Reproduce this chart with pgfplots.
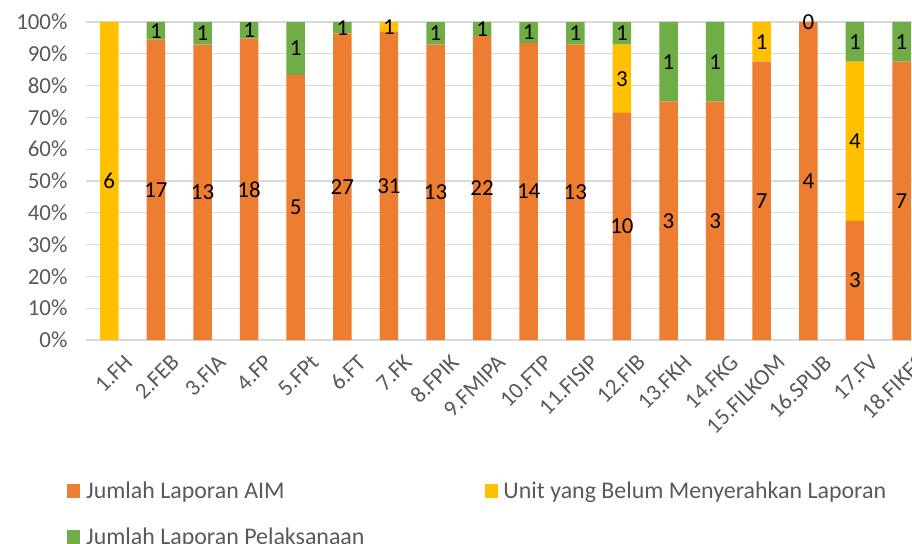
\documentclass[border=0pt]{standalone}
\usepackage{pgfplots}
\usepackage{pgfplotstable}
\usepackage{fontspec}
\setmainfont{Carlito}
\pgfplotsset{compat=1.18}

\definecolor{cAIM}{HTML}{ED7D31}
\definecolor{cBelum}{HTML}{FFC000}
\definecolor{cPel}{HTML}{70AD47}
\definecolor{txtgray}{HTML}{595959}
\definecolor{gridgray}{HTML}{D9D9D9}

% counts per unit; la/lb/lp are the data labels shown on the bars
\pgfplotstableread{
i aim bel pel la lb lp
0 0 6 0 {} 6 {}
1 17 0 1 17 {} 1
2 13 0 1 13 {} 1
3 18 0 1 18 {} 1
4 5 0 1 5 {} 1
5 27 0 1 27 {} 1
6 31 1 0 31 1 {}
7 13 0 1 13 {} 1
8 22 0 1 22 {} 1
9 14 0 1 14 {} 1
10 13 0 1 13 {} 1
11 10 3 1 10 3 1
12 3 0 1 3 {} 1
13 3 0 1 3 {} 1
14 7 1 0 7 1 {}
15 4 0 0 4 {} {}
16 3 4 1 3 4 1
17 7 0 1 7 {} 1
}\datatable

\newcommand{\pct}[1]{\thisrow{#1}/(\thisrow{aim}+\thisrow{bel}+\thisrow{pel})*100}
% tick label that ends at its tick
\newcommand{\tl}[1]{\llap{#1}}

\begin{document}
\begin{tikzpicture}
\begin{axis}[
    name=ax,
    at={(0,0)}, anchor=south west,
    scale only axis,
    width=826bp, height=318bp,
    ybar stacked,
    bar width=18.5bp,
    xmin=-0.5, xmax=17.225,
    ymin=0, ymax=100,
    xtick=data,
    xticklabels={\tl{1.FH},\tl{2.FEB},\tl{3.FIA},\tl{4.FP},\tl{5.FPt},\tl{6.FT},
        \tl{7.FK},\tl{8.FPIK},\tl{9.FMIPA},\tl{10.FTP},\tl{11.FISIP},\tl{12.FIB},
        \tl{13.FKH},\tl{14.FKG},\tl{15.FILKOM},\tl{16.SPUB},\tl{17.FV},\tl{18.FIKES}},
    ytick={0,10,...,100},
    yticklabel={\pgfmathprintnumber{\tick}\%},
    /pgf/number format/assume math mode=true,
    major tick length=0pt,
    axis line style={draw=none},
    ymajorgrids,
    grid style={gridgray, line width=1.3bp},
    tick label style={font=\fontsize{23}{27}\selectfont, text=txtgray},
    yticklabel style={xshift=-15bp},
    xticklabel style={rotate=45, anchor=east, inner sep=0pt, yshift=-27bp, xshift=1bp},
    point meta=explicit symbolic,
    nodes near coords,
    every node near coord/.append style={font=\fontsize{23}{27}\selectfont, text=black, anchor=center},
    legend style={draw=none, fill=none, legend columns=2,
        at={(axis description cs:0,0)}, anchor=north west,
        xshift=-22bp, yshift=-138bp,
        font=\fontsize{24}{28}\selectfont, text=txtgray,
        row sep=24bp,
        /tikz/column 2/.style={column sep=118bp}},
    legend cell align=left,
    legend image code/.code={\fill[#1] (0bp,-7bp) rectangle (13bp,7bp); \path (17bp,0bp);},
]
\addplot[fill=cAIM, draw=none] table[x=i, y expr=\pct{aim}, meta=la] {\datatable};
\addplot[fill=cBelum, draw=none] table[x=i, y expr=\pct{bel}, meta=lb] {\datatable};
\addplot[fill=cPel, draw=none] table[x=i, y expr=\pct{pel}, meta=lp] {\datatable};
\legend{Jumlah Laporan AIM, Unit yang Belum Menyerahkan Laporan, Jumlah Laporan Pelaksanaan}
% zero-height green segment of 16.SPUB: its label "0" sits on the 100% line
\addplot[forget plot, stack plots=false, sharp plot, draw=none, mark=none,
    every node near coord/.append style={shift={(axis direction cs:0,50)}}]
    coordinates {(15,100) [0]};
\end{axis}
\pgfresetboundingbox
\path[use as bounding box] ([xshift=-86bp,yshift=-204bp]ax.south west) rectangle ([yshift=22bp]ax.north east);
\end{tikzpicture}
\end{document}
